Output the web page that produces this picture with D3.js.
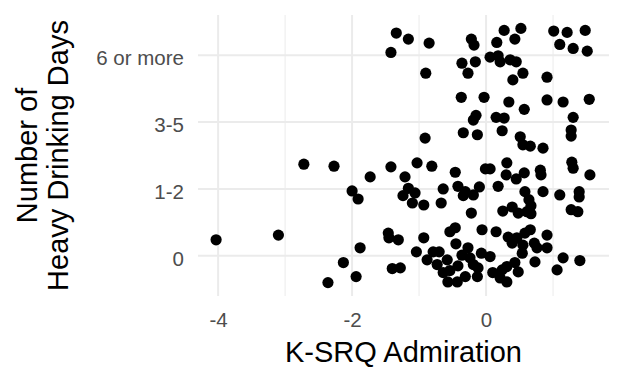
<!DOCTYPE html>
<html>
<head>
<meta charset="utf-8">
<script src="https://cdn.jsdelivr.net/npm/d3@7"></script>
<style>
  body { margin: 0; background: #fff; }
  text { font-family: "Liberation Sans", Arial, sans-serif; }
</style>
</head>
<body>
<div id="chart"></div>
<script>
// drinking-day categories (y axis) and x tick values
const dayCategories = ["0", "1-2", "3-5", "6 or more"];
const xTicks = [-4, -2, 0];
const xMinorTicks = [-3, -1, 1];
const yTitleLines = ["Number of", "Heavy Drinking Days"];

// K-SRQ admiration score for each respondent
const admiration = [
  -1.42, -1.34, -1.16, -0.85, -0.90, -0.22, -0.18, -0.36, -0.16, -0.27,
  0.16, 0.27, 0.43, 0.52, 0.06, 0.18, 0.21, 0.36, 0.45, 0.55,
  0.40, 0.91, 1.01, 1.21, 1.48, 1.10, 1.30, 1.51,
  -0.37, -0.03, 0.34, 0.57, 0.91, 1.15, 1.54, -0.15, -0.19, 0.15,
  0.27, 1.30, -0.34, -0.13, 0.24, -0.91, 0.51, 0.55, 0.66, 0.85,
  1.27, 1.27,
  -2.72, -2.27, -1.73, -1.42, -1.21, -2.00, -1.91, -1.03, -0.81, -0.46,
  -1.16, -1.06, -1.24, -1.10, -0.93, -0.64, -0.67, -0.42, -0.31, -0.34,
  -0.19, -0.10, -0.22, -0.01, 0.06, 0.31, 0.30, 0.45, 0.57, 0.81,
  0.82, 0.18, 0.58, 0.64, 0.85, 0.25, 0.39, 0.48, 0.61, 0.67,
  0.67, 1.28, 1.30, 1.55, 1.10, 1.39, 1.39, 1.27, 1.37,
  -4.03, -3.10, -1.46, -1.45, -1.31, -1.88, -2.13, -1.40, -1.28, -1.94,
  -2.36, -0.93, -1.04, -0.54, -0.46, -0.45, -0.79, -0.70, -0.88, -0.73,
  -0.58, -0.54, -0.57, -0.43, -0.36, -0.24, -0.19, -0.12, -0.13, -0.07,
  0.06, -0.06, 0.15, 0.33, 0.39, 0.46, 0.58, 0.66, 0.72, 0.55,
  0.76, 0.91, 0.91, 0.54, 0.73, 0.10, 0.24, 0.31, 0.43, 0.48,
  0.21, 0.31, 1.15, 1.06, 1.40, -0.42, -0.64, -0.31, -0.27
];

// heavy drinking days (category index, jittered as in the figure)
const drinkDays = [
  3.04, 3.33, 3.24, 3.18, 2.73, 3.24, 3.15, 2.88, 2.90, 2.73,
  3.19, 3.37, 3.24, 3.40, 2.97, 2.99, 2.90, 2.93, 2.90, 2.73,
  2.63, 2.67, 3.36, 3.34, 3.37, 3.16, 3.10, 3.06,
  2.37, 2.37, 2.30, 2.19, 2.33, 2.30, 2.34, 2.10, 2.03, 2.07,
  2.06, 2.07, 1.84, 1.81, 1.87, 1.76, 1.78, 1.66, 1.64, 1.61,
  1.88, 1.79,
  1.37, 1.34, 1.18, 1.33, 1.18, 0.97, 0.85, 1.39, 1.34, 1.25,
  1.01, 0.94, 0.90, 0.79, 0.76, 1.00, 0.79, 1.04, 0.96, 0.90,
  0.91, 1.03, 0.64, 1.30, 1.30, 1.39, 1.21, 1.15, 1.24, 1.28,
  1.21, 1.04, 0.96, 0.84, 0.96, 0.67, 0.73, 0.64, 0.66, 0.75,
  0.63, 1.40, 1.31, 1.21, 0.91, 0.96, 0.88, 0.69, 0.66,
  0.24, 0.31, 0.34, 0.27, 0.24, 0.12, -0.10, -0.19, -0.18, -0.31,
  -0.40, 0.27, 0.06, 0.36, 0.42, 0.18, 0.06, 0.06, -0.06, -0.13,
  -0.06, -0.22, -0.39, -0.39, 0.01, -0.03, -0.13, -0.18, -0.31, 0.04,
  -0.01, 0.39, 0.36, 0.28, 0.19, 0.27, 0.34, 0.39, 0.19, 0.16,
  0.12, 0.31, 0.12, 0.04, -0.09, -0.25, -0.21, -0.16, -0.10, -0.24,
  -0.33, -0.39, -0.03, -0.21, -0.07, -0.15, -0.25, -0.31, 0.12
];

const points = admiration.map((a, i) => ({ x: a, y: drinkDays[i] }));

const width = 624;
const height = 384;
const margin = { top: 15, right: 15, bottom: 88, left: 198 };
const innerWidth = width - margin.left - margin.right;
const innerHeight = height - margin.top - margin.bottom;

const xScale = d3.scaleLinear()
  .domain([-4.30, 1.835])
  .range([0, innerWidth]);

const yScale = d3.scaleLinear()
  .domain([-0.6, 3.6])
  .range([innerHeight, 0]);

const svg = d3.select("#chart")
  .append("svg")
    .attr("width", width)
    .attr("height", height);

const innerChart = svg
  .append("g")
    .attr("transform", `translate(${margin.left}, ${margin.top})`);

// grid lines
innerChart.selectAll(".minor-x")
  .data(xMinorTicks)
  .join("line")
    .attr("x1", (d) => xScale(d))
    .attr("x2", (d) => xScale(d))
    .attr("y1", 0)
    .attr("y2", innerHeight)
    .attr("stroke", "#ebebeb")
    .attr("stroke-width", 1);

innerChart.selectAll(".major-x")
  .data(xTicks)
  .join("line")
    .attr("x1", (d) => xScale(d))
    .attr("x2", (d) => xScale(d))
    .attr("y1", 0)
    .attr("y2", innerHeight)
    .attr("stroke", "#ebebeb")
    .attr("stroke-width", 2);

innerChart.selectAll(".major-y")
  .data(dayCategories)
  .join("line")
    .attr("x1", 0)
    .attr("x2", innerWidth)
    .attr("y1", (d, i) => yScale(i))
    .attr("y2", (d, i) => yScale(i))
    .attr("stroke", "#ebebeb")
    .attr("stroke-width", 2);

// points
innerChart.selectAll(".dot")
  .data(points)
  .join("circle")
    .attr("class", "dot")
    .attr("cx", (d) => xScale(d.x))
    .attr("cy", (d) => yScale(d.y))
    .attr("r", 5.6)
    .attr("fill", "#000");

// x axis
const xAxis = innerChart
  .append("g")
    .attr("transform", `translate(0, ${innerHeight})`)
    .call(d3.axisBottom(xScale)
      .tickValues(xTicks)
      .tickFormat((d) => String(d))
      .tickSize(0)
      .tickPadding(16));
xAxis.select(".domain").remove();
xAxis.selectAll("text")
  .attr("fill", "#4d4d4d")
  .style("font-size", "20.5px")
  .style("font-family", "'Liberation Sans', Arial, sans-serif");

// y axis
const yAxis = innerChart
  .append("g")
    .call(d3.axisLeft(yScale)
      .tickValues(d3.range(dayCategories.length))
      .tickFormat((d) => dayCategories[d])
      .tickSize(0)
      .tickPadding(14));
yAxis.select(".domain").remove();
yAxis.selectAll("text")
  .attr("fill", "#4d4d4d")
  .attr("dy", "0.46em")
  .style("font-size", "20.5px")
  .style("font-family", "'Liberation Sans', Arial, sans-serif");

// axis titles
svg.append("text")
  .attr("x", margin.left + innerWidth / 2)
  .attr("y", 362)
  .attr("text-anchor", "middle")
  .style("font-size", "29px")
  .text("K-SRQ Admiration");

svg.selectAll(".y-title")
  .data(yTitleLines)
  .join("text")
    .attr("class", "y-title")
    .attr("transform", (d, i) => `translate(${37 + i * 31}, ${margin.top + innerHeight / 2}) rotate(-90)`)
    .attr("text-anchor", "middle")
    .style("font-size", "29px")
    .text((d) => d);
</script>
</body>
</html>
